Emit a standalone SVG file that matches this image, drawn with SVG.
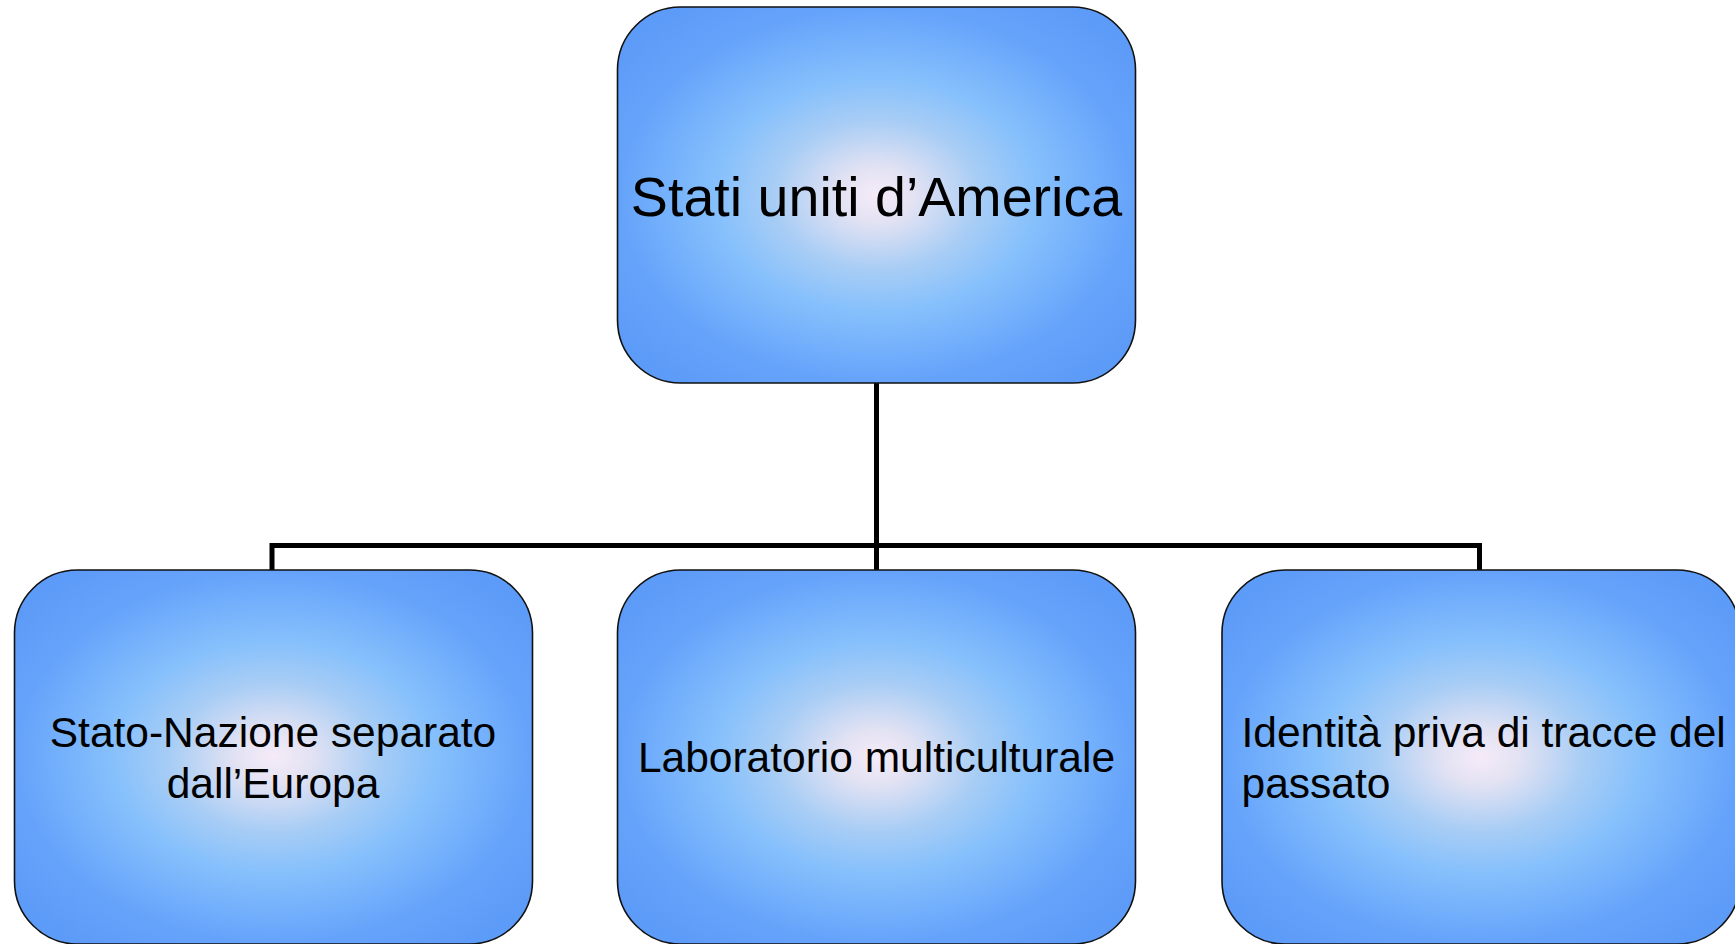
<svg xmlns="http://www.w3.org/2000/svg" width="1735" height="944" viewBox="0 0 1735 944">
<defs>
<radialGradient id="g" cx="0.5" cy="0.5" r="0.62">
<stop offset="0" stop-color="#f6ebf8"/>
<stop offset="0.12" stop-color="#e2e2f3"/>
<stop offset="0.32" stop-color="#a8cdf5"/>
<stop offset="0.5" stop-color="#86c0fc"/>
<stop offset="0.8" stop-color="#65a3fb"/>
<stop offset="1" stop-color="#5d9bf8"/>
</radialGradient>
<style>
.box{fill:url(#g);stroke:#111;stroke-width:1.6}
.t{font-family:"Liberation Sans",Arial,sans-serif;fill:#000}
.conn{fill:none;stroke:#000;stroke-width:5}
</style>
</defs>
<rect width="1735" height="944" fill="#fff"/>
<g id="connectors">
<path class="conn" d="M876.5 383V545.5M272 570V545.5H1479.5V570M876.5 545.5V570"/>
</g>
<g id="n-top">
<rect class="box" x="617.5" y="7" width="518" height="376" rx="63" ry="63"/>
<text class="t" x="876.5" y="216" font-size="55.6" text-anchor="middle">Stati uniti d’America</text>
</g>
<g id="n-left">
<rect class="box" x="14.5" y="570" width="518" height="374" rx="63" ry="63"/>
<text class="t" font-size="42.5" text-anchor="middle"><tspan x="273" y="747">Stato-Nazione separato</tspan><tspan x="273" y="798">dall’Europa</tspan></text>
</g>
<g id="n-mid">
<rect class="box" x="617.5" y="570" width="518" height="374" rx="63" ry="63"/>
<text class="t" x="876.5" y="772" font-size="42.5" text-anchor="middle">Laboratorio multiculturale</text>
</g>
<g id="n-right">
<rect class="box" x="1222" y="570" width="518" height="374" rx="63" ry="63"/>
<text class="t" font-size="42.5"><tspan x="1241.5" y="747">Identità priva di tracce del</tspan><tspan x="1241.5" y="798">passato</tspan></text>
</g>
</svg>
